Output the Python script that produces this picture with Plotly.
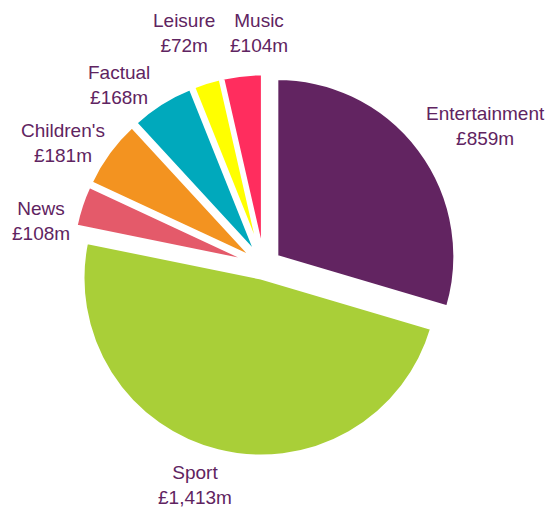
import plotly.graph_objects as go

# Spending by genre (£m)
genres = ["Entertainment", "Sport", "News", "Children's", "Factual", "Leisure", "Music"]
spend = [859, 1413, 108, 181, 168, 72, 104]
slice_colors = ["#622461", "#a9cf38", "#e45a6a", "#f39320", "#00a9bc", "#ffff00", "#ff2d5e"]
slice_pull = [0.09, 0.07, 0.08, 0.08, 0.08, 0.08, 0.08]

# Label anchor points in paper coordinates (x, y)
label_pos = [(0.888, 0.753), (0.357, 0.047), (0.075, 0.565),
             (0.115, 0.72), (0.218, 0.833), (0.336, 0.935), (0.474, 0.935)]

W, H = 547, 509
cx, cy, size = 264, 266, 388

fig = go.Figure(go.Pie(
    labels=genres,
    values=spend,
    sort=False,
    direction="clockwise",
    rotation=0,
    pull=slice_pull,
    marker=dict(colors=slice_colors, line=dict(color="white", width=3)),
    textinfo="none",
    hoverinfo="label+value",
    showlegend=False,
    domain=dict(x=[(cx - size / 2) / W, (cx + size / 2) / W],
                y=[1 - (cy + size / 2) / H, 1 - (cy - size / 2) / H]),
))

for name, val, (lx, ly) in zip(genres, spend, label_pos):
    fig.add_annotation(
        x=lx, y=ly, xref="paper", yref="paper",
        text=f"{name}<br>£{val:,}m",
        showarrow=False, xanchor="center", yanchor="middle",
        font=dict(family="Liberation Sans, Arial, sans-serif", size=19, color="#5f2461"),
    )

fig.update_layout(
    width=W, height=H,
    margin=dict(l=0, r=0, t=0, b=0),
    paper_bgcolor="white",
    plot_bgcolor="white",
)

fig.write_html("out.html")
